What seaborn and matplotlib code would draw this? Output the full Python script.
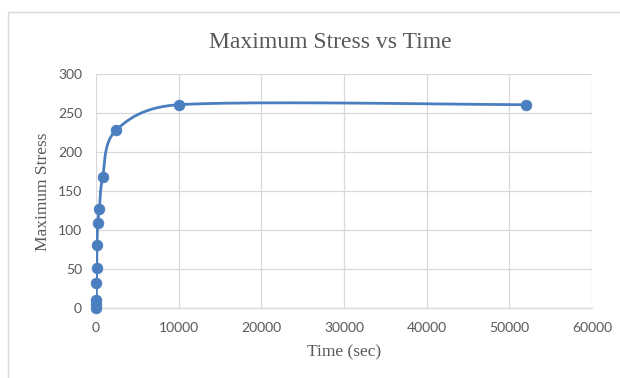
import numpy as np
import pandas as pd
import matplotlib
matplotlib.use("Agg")
import matplotlib.pyplot as plt
import seaborn as sns
from matplotlib.patches import Rectangle

# Measured maximum stress over time
time_sec = [0, 20, 40, 60, 80, 120, 200, 400, 800, 2400, 10000, 52000]
max_stress = [1, 5, 11, 32, 52, 81, 109, 127, 168, 228, 261, 261]

x_ticks = [0, 10000, 20000, 30000, 40000, 50000, 60000]
y_ticks = [0, 50, 100, 150, 200, 250, 300]

BLUE = "#4A7EBF"
GRAY_TEXT = "#595959"
GRID = "#D9D9D9"

sns.set_theme(style="white")
plt.rcParams["font.family"] = ["Liberation Serif", "DejaVu Serif"]

df = pd.DataFrame({"Time (sec)": time_sec, "Maximum Stress": max_stress})

# axes placement in pixels (figure is 620 x 378)
AX_L, AX_R, AX_T, AX_B = 96, 592, 74.3, 308.3


def smooth_curve(xs, ys, n=80):
    """Cubic Bezier smoothing with Catmull-Rom tangents, each control
    handle limited to half the length of its own segment."""
    pts = np.column_stack([np.asarray(xs, float), np.asarray(ys, float)])
    m = len(pts)
    tang = []
    for i in range(m):
        p_prev = pts[max(i - 1, 0)]
        p_next = pts[min(i + 1, m - 1)]
        tang.append((p_next - p_prev) / 6.0)
    t = np.linspace(0, 1, n)[:, None]
    out = []
    for i in range(m - 1):
        p1, p2 = pts[i], pts[i + 1]
        seg = np.linalg.norm(p2 - p1)
        h1, h2 = tang[i].copy(), tang[i + 1].copy()
        for h in (h1, h2):
            L = np.linalg.norm(h)
            if L > seg / 2 and L > 0:
                h *= (seg / 2) / L
        c1 = p1 + h1
        c2 = p2 - h2
        out.append(((1 - t) ** 3) * p1 + 3 * ((1 - t) ** 2) * t * c1
                   + 3 * (1 - t) * t ** 2 * c2 + t ** 3 * p2)
    curve = np.vstack(out)
    return curve[:, 0], curve[:, 1]


fig = plt.figure(figsize=(6.2, 3.78), dpi=100)
fig.patch.set_facecolor("white")
ax = fig.add_axes([AX_L / 620, 1 - AX_B / 378,
                   (AX_R - AX_L) / 620, (AX_B - AX_T) / 378])

# chart frame
fig.patches.append(Rectangle((8 / 620, -0.1), 1.2, 1.1 - 12 / 378,
                             transform=fig.transFigure, fill=False,
                             edgecolor="#D9D9D9", linewidth=1.0))

# smoothing is done in screen units so the curve shape follows the drawn aspect
sx = (AX_R - AX_L) / 60000
sy = (AX_B - AX_T) / 300
cx, cy = smooth_curve(np.array(time_sec) * sx, np.array(max_stress) * sy)
ax.plot(cx / sx, cy / sy, color=BLUE, lw=2.0,
        solid_capstyle="round", zorder=3)
sns.scatterplot(data=df, x="Time (sec)", y="Maximum Stress", ax=ax,
                color=BLUE, s=60, edgecolor=BLUE, linewidth=0.5, zorder=4,
                clip_on=False)

ax.set_xlim(0, 60000)
ax.set_ylim(0, 300)
ax.set_xticks(x_ticks)
ax.set_yticks(y_ticks)
ax.set_xticklabels([str(v) for v in x_ticks], family=["Lato", "DejaVu Sans"])
ax.set_yticklabels([str(v) for v in y_ticks], family=["Lato", "DejaVu Sans"])
ax.grid(True, color=GRID, linewidth=0.9)
ax.set_axisbelow(True)
for side in ["left", "top", "right"]:
    ax.spines[side].set_visible(False)
ax.spines["bottom"].set_color(GRID)
ax.spines["bottom"].set_linewidth(0.9)
ax.tick_params(axis="both", length=0, labelsize=10, colors=GRAY_TEXT)
ax.tick_params(axis="x", pad=10)
ax.tick_params(axis="y", pad=10)

ax.set_xlabel("Time (sec)", fontsize=12.5, color=GRAY_TEXT, labelpad=7)
ax.set_ylabel("Maximum Stress", fontsize=12.5, color=GRAY_TEXT, labelpad=5)
fig.text(330 / 620, 1 - 42 / 378, "Maximum Stress vs Time",
         ha="center", va="center", fontsize=17, color=GRAY_TEXT)

fig.savefig("out.png", dpi=100, facecolor="white")
